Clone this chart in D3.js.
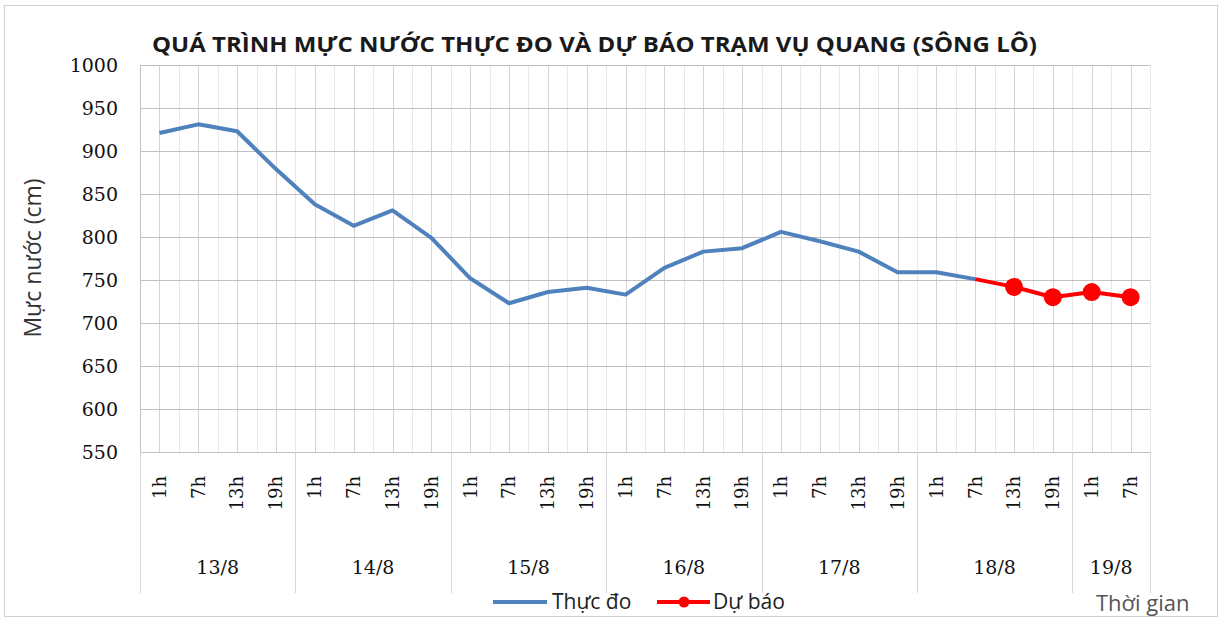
<!DOCTYPE html>
<html>
<head>
<meta charset="utf-8">
<script src="https://cdn.jsdelivr.net/npm/d3@7"></script>
<style>
  body { margin: 0; background: #fff; }
  svg { display: block; }
</style>
</head>
<body>
<div id="chart"></div>
<script>
const hours = ['1h','7h','13h','19h','1h','7h','13h','19h','1h','7h','13h','19h','1h','7h','13h','19h',
               '1h','7h','13h','19h','1h','7h','13h','19h','1h','7h'];
const days = ['13/8','14/8','15/8','16/8','17/8','18/8','19/8'];
const dayCounts = [4, 4, 4, 4, 4, 4, 2];
const observed = [921, 931, 923, 879, 838, 813, 831, 799, 752, 723, 736, 741, 733, 764, 783, 787,
                  806, 795, 783, 759, 759, 751, null, null, null, null];
const forecast = [null, null, null, null, null, null, null, null, null, null, null, null, null, null, null, null,
                  null, null, null, null, null, 751, 742, 730, 736, 730];
const yTicks = [550, 600, 650, 700, 750, 800, 850, 900, 950, 1000];

const W = 1221, H = 620;
const plot = { left: 140, right: 1150, top: 65, bottom: 452 };

const svg = d3.select('#chart').append('svg')
  .attr('width', W)
  .attr('height', H);

// chart frame
svg.append('rect')
  .attr('x', 4.5).attr('y', 5.5)
  .attr('width', 1213).attr('height', 611)
  .attr('fill', '#fff')
  .attr('stroke', '#d0d0d0');

const x = d3.scaleBand()
  .domain(d3.range(hours.length))
  .range([plot.left, plot.right]);
const bw = x.bandwidth();
const cx = i => x(i) + bw / 2;

const y = d3.scaleLinear()
  .domain([550, 1000])
  .range([plot.bottom, plot.top]);

// vertical grid: light at boundaries, darker at category centres
const grid = svg.append('g');
grid.selectAll('line.vb')
  .data(d3.range(hours.length + 1))
  .enter().append('line')
  .attr('x1', i => Math.round(plot.left + i * bw) + 0.5)
  .attr('x2', i => Math.round(plot.left + i * bw) + 0.5)
  .attr('y1', plot.top).attr('y2', plot.bottom)
  .attr('stroke', '#e8e8e8');
grid.selectAll('line.vc')
  .data(d3.range(hours.length))
  .enter().append('line')
  .attr('x1', i => Math.round(cx(i)) + 0.5)
  .attr('x2', i => Math.round(cx(i)) + 0.5)
  .attr('y1', plot.top).attr('y2', plot.bottom)
  .attr('stroke', '#d4d4d4');
grid.selectAll('line.h')
  .data(yTicks)
  .enter().append('line')
  .attr('x1', plot.left).attr('x2', plot.right)
  .attr('y1', d => Math.round(y(d)) + 0.5)
  .attr('y2', d => Math.round(y(d)) + 0.5)
  .attr('stroke', '#c0c0c0');

// y axis labels
const yAxis = d3.axisLeft(y).tickValues(yTicks).tickFormat(d3.format('d')).tickSize(0).tickPadding(22);
svg.append('g')
  .attr('transform', `translate(${plot.left},0)`)
  .call(yAxis)
  .call(g => g.select('.domain').attr('stroke', '#c0c0c0'))
  .call(g => g.selectAll('text')
    .attr('font-family', 'DejaVu Serif')
    .attr('font-size', 19)
    .attr('fill', '#111'));

// x axis: hour labels rotated
const xAxis = d3.axisBottom(x).tickSize(0).tickFormat(i => hours[i]);
svg.append('g')
  .attr('transform', `translate(0,${plot.bottom})`)
  .call(xAxis)
  .call(g => g.select('.domain').attr('stroke', '#c0c0c0'))
  .call(g => g.selectAll('text')
    .attr('font-family', 'DejaVu Serif')
    .attr('font-size', 18)
    .attr('fill', '#111')
    .attr('text-anchor', 'end')
    .attr('transform', 'translate(0,24) rotate(-90)')
    .attr('x', 0).attr('y', 0).attr('dy', '0.35em'));

// day groups
let start = 0;
const groups = days.map((d, k) => {
  const g = { label: d, from: start, to: start + dayCounts[k] };
  start += dayCounts[k];
  return g;
});
const sepX = [plot.left].concat(groups.map(g => plot.left + g.to * bw));
svg.selectAll('line.sep')
  .data(sepX)
  .enter().append('line')
  .attr('x1', d => Math.round(d) + 0.5).attr('x2', d => Math.round(d) + 0.5)
  .attr('y1', plot.bottom).attr('y2', 593)
  .attr('stroke', '#d6d6d6');
svg.selectAll('text.day')
  .data(groups)
  .enter().append('text')
  .attr('x', g => plot.left + (g.from + g.to) / 2 * bw)
  .attr('y', 574)
  .attr('text-anchor', 'middle')
  .attr('font-family', 'DejaVu Serif')
  .attr('font-size', 19)
  .attr('fill', '#111')
  .text(g => g.label);

// lines
const line = d3.line()
  .defined(d => d != null)
  .x((d, i) => cx(i))
  .y(d => y(d));

svg.append('path')
  .datum(observed)
  .attr('fill', 'none')
  .attr('stroke', '#4f81bd')
  .attr('stroke-width', 4)
  .attr('stroke-linejoin', 'round')
  .attr('d', line);

svg.append('path')
  .datum(forecast)
  .attr('fill', 'none')
  .attr('stroke', '#ff0000')
  .attr('stroke-width', 4)
  .attr('stroke-linejoin', 'round')
  .attr('d', line);

svg.selectAll('circle.fc')
  .data(forecast.map((v, i) => ({ v, i })).filter(d => d.v != null && observed[d.i] == null))
  .enter().append('circle')
  .attr('cx', d => cx(d.i))
  .attr('cy', d => y(d.v))
  .attr('r', 9)
  .attr('fill', '#ff0000');

// title
svg.append('text')
  .attr('x', 152).attr('y', 52)
  .attr('font-family', 'Open Sans')
  .attr('font-weight', 'bold')
  .attr('font-size', 22)
  .attr('textLength', 885)
  .attr('lengthAdjust', 'spacingAndGlyphs')
  .attr('fill', '#1a1a1a')
  .text('QUÁ TRÌNH MỰC NƯỚC THỰC ĐO VÀ DỰ BÁO TRẠM VỤ QUANG (SÔNG LÔ)');

// y axis title
svg.append('text')
  .attr('transform', 'translate(41,258) rotate(-90)')
  .attr('text-anchor', 'middle')
  .attr('font-family', 'Open Sans')
  .attr('font-size', 23)
  .attr('fill', '#333')
  .text('Mực nước (cm)');

// legend
const leg = svg.append('g').attr('transform', 'translate(0,602)');
leg.append('line').attr('x1', 493).attr('x2', 547).attr('y1', 0).attr('y2', 0)
  .attr('stroke', '#4f81bd').attr('stroke-width', 4);
leg.append('text').attr('x', 552).attr('y', 0).attr('dy', '0.35em')
  .attr('font-family', 'Open Sans').attr('font-size', 21).attr('fill', '#222')
  .text('Thực đo');
leg.append('line').attr('x1', 657).attr('x2', 710).attr('y1', 0).attr('y2', 0)
  .attr('stroke', '#ff0000').attr('stroke-width', 4);
leg.append('circle').attr('cx', 684).attr('cy', 0).attr('r', 5.5).attr('fill', '#ff0000');
leg.append('text').attr('x', 713).attr('y', 0).attr('dy', '0.35em')
  .attr('font-family', 'Open Sans').attr('font-size', 21).attr('fill', '#222')
  .attr('textLength', 72).attr('lengthAdjust', 'spacingAndGlyphs')
  .text('Dự báo');

svg.append('text')
  .attr('x', 1096).attr('y', 603).attr('dy', '0.35em')
  .attr('font-family', 'Open Sans').attr('font-size', 22).attr('fill', '#555')
  .text('Thời gian');
</script>
</body>
</html>
